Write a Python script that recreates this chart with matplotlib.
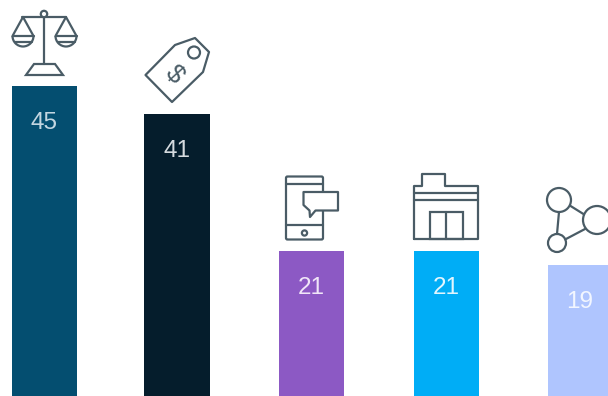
import numpy as np
import matplotlib
matplotlib.use('Agg')
import matplotlib.pyplot as plt
from matplotlib.patches import Circle, Polygon, Rectangle, FancyBboxPatch, Arc

values = [45, 41, 21, 21, 19]
bar_colors = ['#044e70', '#051d2c', '#8c59c4', '#00adf6', '#afc5fe']
text_colors = ['#c3d6e1', '#d6dbdf', '#f0e6f8', '#e2f5fe', '#f2f6ff']

bar_centers = [44.5, 177, 311.5, 446.5, 580.5]
bar_width = 65.5
px_per_unit = 6.87
baseline_px = 395.5
icon_color = '#4a5c66'

plt.rcParams['font.family'] = ['Liberation Sans', 'DejaVu Sans']

fig = plt.figure(figsize=(6.08, 3.96), dpi=100)
ax = fig.add_axes([0, 0, 1, 1])
ax.bar(bar_centers, values, width=bar_width, color=bar_colors)
ax.set_xlim(0, 608)
ax.set_ylim(-(396 - baseline_px) / px_per_unit, baseline_px / px_per_unit)
ax.axis('off')

for x, v, c in zip(bar_centers, values, text_colors):
    ax.text(x - 0.5, v - 5.4, str(v), color=c, fontsize=17.5, ha='center', va='center')

# second layer for the icons, in pixel units with y going down
ic = fig.add_axes([0, 0, 1, 1])
ic.set_xlim(0, 608)
ic.set_ylim(396, 0)
ic.axis('off')
ic.patch.set_alpha(0)

lw = 1.6


def line(xs, ys, width=lw):
    ic.plot(xs, ys, color=icon_color, lw=width, solid_capstyle='round', solid_joinstyle='round', clip_on=True)


def circle(x, y, r, width=lw):
    ic.add_patch(Circle((x, y), r, fill=True, fc='white', ec=icon_color, lw=width, zorder=3))


# scales
line([22, 66], [17, 17])
line([44, 44], [17, 64])
circle(44, 14, 3.2)
for cx in [23, 66]:
    line([cx - 10.5, cx, cx + 10.5], [36, 17, 36])
    line([cx - 10.5, cx + 10.5], [36, 36])
    line([cx - 8.5, cx + 8.5], [41.5, 41.5])
    ic.add_patch(Arc((cx, 36), 21, 21, theta1=0, theta2=180, color=icon_color, lw=lw))
ic.add_patch(Polygon([(26, 75), (63, 75), (55, 64), (34, 64)], closed=True, fill=False, ec=icon_color, lw=lw))

# price tag
ic.add_patch(Polygon([(145.5, 75), (172, 102), (203, 72), (209, 52), (195, 38), (175, 45)],
                     closed=True, fill=False, ec=icon_color, lw=lw, joinstyle='round'))
circle(194, 52.5, 6)
ic.text(174, 74, '$', color=icon_color, fontsize=19, rotation=-48, ha='center', va='center',
        family=['Liberation Sans', 'DejaVu Sans'])

# phone with speech bubble
ic.add_patch(FancyBboxPatch((286, 176.5), 37, 63, boxstyle='round,pad=0,rounding_size=1.5',
                            fill=False, ec=icon_color, lw=lw))
line([286, 323], [184, 184])
line([286, 323], [225, 225])
circle(304.5, 233, 2.6)
ic.add_patch(Polygon([(303.5, 192), (338, 192), (338, 210.5), (315.5, 210.5), (310, 217), (309.5, 210.5), (303.5, 205)],
                     closed=True, fc='white', ec=icon_color, lw=lw, joinstyle='round', zorder=3))

# storefront
line([414, 414, 422, 422, 445, 445, 478, 478, 414],
     [239, 186, 186, 174, 174, 186, 186, 239, 239])
line([414, 478], [193, 193])
line([414, 478], [200, 200])
ic.add_patch(Rectangle((430, 211.5), 33, 27.5, fill=False, ec=icon_color, lw=lw))
line([446, 446], [211.5, 239])

# connected nodes
line([569, 585], [205, 215])
line([559, 557], [212, 234])
line([566, 585], [239, 229])
circle(559, 200, 12)
circle(557, 243, 9)
circle(597, 220, 14)

fig.savefig('out.png', dpi=100, facecolor='white')
